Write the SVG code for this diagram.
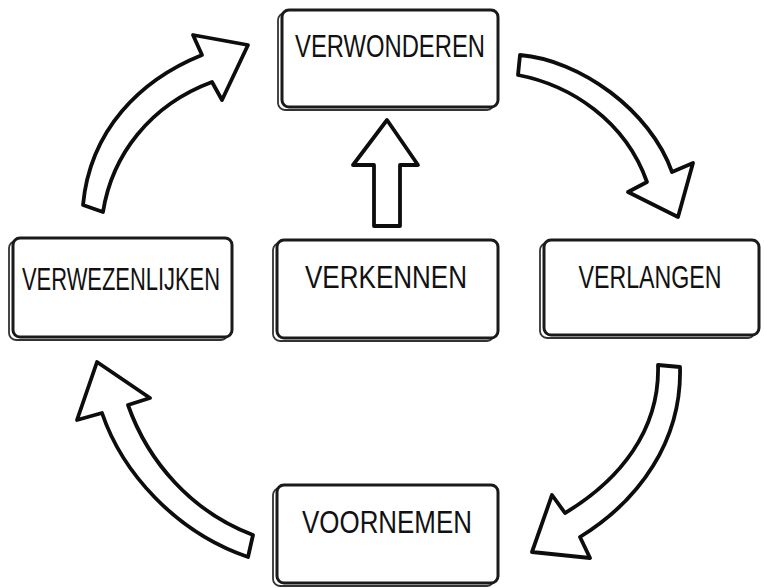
<svg xmlns="http://www.w3.org/2000/svg" width="764" height="588" viewBox="0 0 764 588">
<style>
.bg{fill:#fff;stroke:#333;stroke-width:1.8}
.box{fill:#fff;stroke:#1a1a1a;stroke-width:3}
.lbl{font-family:"Liberation Sans",Arial,sans-serif;font-size:31px;fill:#111;text-anchor:middle}
.arr{fill:#fff;stroke:#0d0d0d;stroke-width:3.8;stroke-linejoin:round;stroke-linecap:round}
</style>
<rect width="764" height="588" fill="#fff"/>
<g id="connectors">
<path class="arr" d="M83,205 C90,130 140,80 202,55 L193,35 L248,45 L222,100 L212,82 C150,105 112,155 103,212 Z"/>
<path class="arr" d="M520,55 C580,60 650,110 672,172 L693,163 L678,217 L628,192 L647,182 C625,120 570,85 518,75 Z"/>
<path class="arr" d="M658,365 L680,367 C682,440 640,500 580,537 L590,558 L532,552 L552,495 L565,513 C620,480 660,430 658,365 Z"/>
<path class="arr" d="M253,535 L248,557 C175,532 122,472 102,413 L77,420 L97,362 L150,398 L128,405 C148,462 192,512 253,535 Z"/>
<path class="arr" d="M374,226 L374,165 L353,165 L387,120 L418,165 L400,165 L400,226 Z"/>
</g>
<g id="verwonderen">
<rect class="bg" x="278" y="13" width="216" height="97" rx="7"/>
<rect class="box" x="282" y="10" width="216" height="97" rx="7"/>
<text class="lbl" x="390" y="57" textLength="190" lengthAdjust="spacingAndGlyphs">VERWONDEREN</text>
</g>
<g id="verwezenlijken">
<rect class="bg" x="9" y="241" width="219" height="99" rx="7"/>
<rect class="box" x="13" y="238" width="219" height="99" rx="7"/>
<text class="lbl" x="121" y="290" textLength="198" lengthAdjust="spacingAndGlyphs">VERWEZENLIJKEN</text>
</g>
<g id="verkennen">
<rect class="bg" x="273" y="243" width="221" height="98" rx="7"/>
<rect class="box" x="277" y="240" width="221" height="98" rx="7"/>
<text class="lbl" x="386" y="288" textLength="162" lengthAdjust="spacingAndGlyphs">VERKENNEN</text>
</g>
<g id="verlangen">
<rect class="bg" x="540" y="243" width="215" height="95" rx="7"/>
<rect class="box" x="544" y="240" width="215" height="95" rx="7"/>
<text class="lbl" x="650" y="288" textLength="143" lengthAdjust="spacingAndGlyphs">VERLANGEN</text>
</g>
<g id="voornemen">
<rect class="bg" x="273" y="488" width="221" height="98" rx="7"/>
<rect class="box" x="277" y="485" width="221" height="98" rx="7"/>
<text class="lbl" x="387" y="533" textLength="170" lengthAdjust="spacingAndGlyphs">VOORNEMEN</text>
</g>
</svg>
